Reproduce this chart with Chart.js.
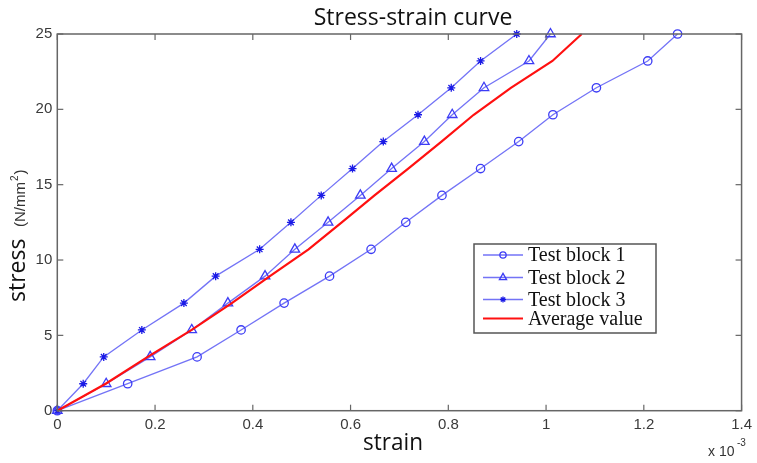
<!DOCTYPE html>
<html>
<head>
<meta charset="utf-8">
<script src="https://cdn.jsdelivr.net/npm/chart.js@4/dist/chart.umd.min.js"></script>
<style>
html,body{margin:0;padding:0;background:#fff;}
#wrap{width:757px;height:463px;position:relative;}
</style>
</head>
<body>
<div id="wrap"><canvas id="c" width="757" height="463"></canvas></div>
<script>
// ---- data (strain in units of 10^-3, stress in N/mm^2) ----
const stressLevels = [0, 1.79, 3.57, 5.36, 7.14, 8.93, 10.71, 12.5, 14.29, 16.07, 17.86, 19.64, 21.43, 23.21, 25];
const strainBlock1 = [0, 0.144, 0.286, 0.376, 0.464, 0.557, 0.642, 0.713, 0.787, 0.866, 0.944, 1.014, 1.103, 1.208, 1.269];
const strainBlock2 = [0, 0.100, 0.190, 0.275, 0.349, 0.425, 0.486, 0.554, 0.620, 0.684, 0.751, 0.808, 0.873, 0.965, 1.009];
const strainBlock3 = [0, 0.053, 0.095, 0.173, 0.259, 0.324, 0.414, 0.478, 0.540, 0.604, 0.667, 0.738, 0.806, 0.866, 0.940];
const strainAverage = [0, 0.099, 0.185, 0.275, 0.357, 0.435, 0.514, 0.582, 0.649, 0.718, 0.786, 0.852, 0.928, 1.013, 1.073];
const seriesNames = ['Test block 1', 'Test block 2', 'Test block 3', 'Average value'];
const xTickValues = [0, 0.2, 0.4, 0.6, 0.8, 1, 1.2, 1.4];
const yTickValues = [0, 5, 10, 15, 20, 25];

const pts = arr => arr.map((x, i) => ({x: x, y: stressLevels[i]}));
const BLUE = 'rgba(90,90,245,0.85)';
const MARK = '#3c3cf5';

const chrome = {
  id: 'chrome',
  beforeDraw(chart) {
    const c = chart.ctx;
    c.save(); c.fillStyle = '#fff'; c.fillRect(0, 0, chart.width, chart.height); c.restore();
  },
  afterDraw(chart) {
    const c = chart.ctx, a = chart.chartArea;
    const xs = chart.scales.x, ys = chart.scales.y;
    c.save();
    // frame
    c.strokeStyle = '#666'; c.lineWidth = 1.5;
    c.strokeRect(a.left, a.top, a.right - a.left, a.bottom - a.top);
    // inward ticks on all four sides
    c.lineWidth = 1.2;
    const tl = 6;
    xTickValues.forEach(v => {
      const p = xs.getPixelForValue(v);
      c.beginPath(); c.moveTo(p, a.bottom); c.lineTo(p, a.bottom - tl); c.stroke();
      c.beginPath(); c.moveTo(p, a.top); c.lineTo(p, a.top + tl); c.stroke();
    });
    yTickValues.forEach(v => {
      const p = ys.getPixelForValue(v);
      c.beginPath(); c.moveTo(a.left, p); c.lineTo(a.left + tl, p); c.stroke();
      c.beginPath(); c.moveTo(a.right, p); c.lineTo(a.right - tl, p); c.stroke();
    });
    // title
    c.fillStyle = '#111';
    c.textAlign = 'center'; c.textBaseline = 'alphabetic';
    c.font = '23px "Open Sans"';
    c.fillText('Stress-strain curve', 413, 25, 200);
    // x axis title
    c.font = '23px "Open Sans"';
    c.fillText('strain', 393, 450, 60);
    // x 10^-3
    c.fillStyle = '#333';
    c.textAlign = 'left';
    c.font = '14px "Liberation Sans"';
    c.fillText('x 10', 708, 456);
    c.font = '10px "Liberation Sans"';
    c.fillText('-3', 737, 446);
    // y axis title (rotated)
    c.save();
    c.translate(25, 302);
    c.rotate(-Math.PI / 2);
    c.textAlign = 'left';
    c.fillStyle = '#111';
    c.font = '23px "Open Sans"';
    c.fillText('stress', 0, 0, 71);
    c.fillStyle = '#333';
    c.font = '15px "Liberation Sans"';
    let x0 = 75;
    c.fillText('(N/mm', x0, 0);
    x0 += c.measureText('(N/mm').width;
    c.font = '10px "Liberation Sans"';
    c.fillText('2', x0 + 1, -7);
    x0 += c.measureText('2').width + 2;
    c.font = '15px "Liberation Sans"';
    c.fillText(')', x0, 0);
    c.restore();
    // legend
    const bx = 474, by = 244, bw = 182, bh = 89;
    c.fillStyle = '#fff'; c.fillRect(bx, by, bw, bh);
    c.strokeStyle = '#555'; c.lineWidth = 1.5; c.strokeRect(bx, by, bw, bh);
    const rowsY = [255, 277.5, 299.5, 318.5];
    chart.data.datasets.forEach((ds, i) => {
      const y = rowsY[i];
      c.strokeStyle = ds.borderColor; c.lineWidth = ds.borderWidth;
      c.beginPath(); c.moveTo(483, y); c.lineTo(523, y); c.stroke();
      if (ds.pointStyle && ds.pointRadius > 0) {
        c.strokeStyle = ds.pointBorderColor;
        c.fillStyle = ds.pointBackgroundColor;
        c.lineWidth = ds.pointBorderWidth;
        Chart.helpers.drawPoint(c, {pointStyle: ds.pointStyle, radius: ds.pointRadius * 0.75, borderWidth: ds.pointBorderWidth, rotation: 0}, 503, y);
      }
      c.fillStyle = '#111';
      c.font = '20px "Liberation Serif"';
      c.textAlign = 'left'; c.textBaseline = 'middle';
      c.fillText(ds.label, 528, y + 1);
    });
    c.restore();
  }
};

const ds = [
  {label: seriesNames[0], data: pts(strainBlock1), pointStyle: 'circle', pointRadius: 4.2},
  {label: seriesNames[1], data: pts(strainBlock2), pointStyle: 'triangle', pointRadius: 5.5},
  {label: seriesNames[2], data: pts(strainBlock3), pointStyle: 'star', pointRadius: 4},
].map(d => Object.assign(d, {
  borderColor: BLUE, borderWidth: 1.3, pointBorderColor: MARK, pointBackgroundColor: 'rgba(0,0,0,0)',
  pointBorderWidth: 1.3, tension: 0, fill: false, clip: false, order: 1
}));
ds[2].pointBorderColor = '#1a1ae6';
ds[2].pointBorderWidth = 1.3;
ds.push({label: seriesNames[3], data: pts(strainAverage), borderColor: '#ff1010', borderWidth: 2.2,
  pointRadius: 0, pointStyle: false, tension: 0, fill: false, clip: false, order: 0});

new Chart(document.getElementById('c'), {
  type: 'line',
  data: {datasets: ds},
  options: {
    responsive: false, animation: false, devicePixelRatio: 1,
    layout: {padding: {left: 0, right: 10.5, top: 34, bottom: 0}},
    plugins: {legend: {display: false}, title: {display: false}, tooltip: {enabled: false}},
    scales: {
      x: {
        type: 'linear', min: 0, max: 1.4,
        afterBuildTicks: s => { s.ticks = xTickValues.map(v => ({value: v})); },
        afterFit: s => { s.height = 52.3; },
        grid: {display: false, drawTicks: false}, border: {display: false},
        ticks: {font: {family: 'Liberation Sans', size: 15}, color: '#3a3a3a', padding: 5,
          callback: v => String(+v.toFixed(1)), maxRotation: 0}
      },
      y: {
        type: 'linear', min: 0, max: 25,
        afterBuildTicks: s => { s.ticks = yTickValues.map(v => ({value: v})); },
        afterFit: s => { s.width = 57.3; },
        grid: {display: false, drawTicks: false}, border: {display: false},
        ticks: {font: {family: 'Liberation Sans', size: 15}, color: '#3a3a3a', padding: 5}
      }
    }
  },
  plugins: [chrome]
});
</script>
</body>
</html>
